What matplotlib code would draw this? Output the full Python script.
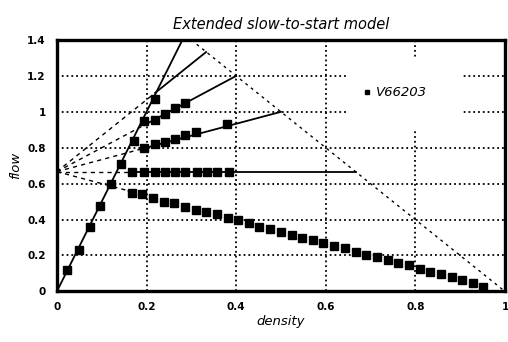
import matplotlib.pyplot as plt
import matplotlib.patches as mpatches

# squares (V66203) - free flow branch
ff_x = [0.022, 0.049, 0.074, 0.096, 0.120, 0.143, 0.171, 0.194, 0.218]
ff_y = [0.117, 0.233, 0.356, 0.478, 0.600, 0.710, 0.840, 0.950, 1.070]

# branch ending at (0.4, 1.2)
b1_x = [0.218, 0.241, 0.263, 0.285]
b1_y = [0.955, 0.990, 1.020, 1.050]

# branch ending at (0.5, 1.0)
b2_x = [0.194, 0.218, 0.241, 0.263, 0.285, 0.310, 0.380]
b2_y = [0.800, 0.820, 0.830, 0.850, 0.870, 0.885, 0.930]

# flat branch at 0.667
b3_x = [0.167, 0.194, 0.218, 0.241, 0.263, 0.285, 0.312, 0.334, 0.358, 0.383]
b3_y = [0.665, 0.665, 0.665, 0.665, 0.665, 0.665, 0.665, 0.665, 0.665, 0.665]

# jammed branch
b4_x = [0.167, 0.190, 0.214, 0.238, 0.262, 0.286, 0.310, 0.333, 0.357, 0.381,
        0.405, 0.429, 0.452, 0.476, 0.500, 0.524, 0.548, 0.571, 0.595, 0.619,
        0.643, 0.667, 0.690, 0.714, 0.738, 0.762, 0.786, 0.810, 0.833, 0.857,
        0.881, 0.905, 0.929, 0.952]
b4_y = [0.550, 0.540, 0.520, 0.500, 0.490, 0.470, 0.455, 0.440, 0.430, 0.410,
        0.395, 0.380, 0.360, 0.350, 0.330, 0.315, 0.300, 0.285, 0.270, 0.255,
        0.240, 0.220, 0.205, 0.190, 0.175, 0.160, 0.145, 0.125, 0.110, 0.095,
        0.080, 0.062, 0.045, 0.025]

# theory lines
free_x = [0.0, 0.28]
free_y = [0.0, 1.4]
cong_x = [0.30, 1.0]
cong_y = [1.40, 0.0]
origin = (0.0, 0.667)
fan_start = [(0.22, 1.107), (0.20, 0.933), (0.19, 0.794), (0.16, 0.667), (0.16, 0.560)]
fan_end = [(0.333, 1.333), (0.40, 1.20), (0.50, 1.00), (0.667, 0.667), (0.167, 0.555)]

fig = plt.figure(figsize=(5.08, 3.42), dpi=100)
ax = fig.add_axes([0.112, 0.148, 0.882, 0.735])

ax.grid(True, color="k", linestyle=":", lw=1.3)
ax.set_axisbelow(True)

ax.plot(free_x, free_y, color="k", lw=1.3)
ax.plot(cong_x, cong_y, color="k", lw=1.0, linestyle=(0, (2, 3)))
for (sx, sy), (ex, ey) in zip(fan_start, fan_end):
    ax.plot([origin[0], sx], [origin[1], sy], color="k", lw=1.0, linestyle=(0, (3, 3)))
    ax.plot([sx, ex], [sy, ey], color="k", lw=1.3)

sq_x = ff_x + b1_x + b2_x + b3_x + b4_x
sq_y = ff_y + b1_y + b2_y + b3_y + b4_y
ax.plot(sq_x, sq_y, "s", color="k", ms=5.5, ls="none", label="V66203", zorder=4)

# white box behind the legend hides the grid
ax.add_patch(mpatches.Rectangle((0.647, 0.647), 0.26, 0.28, transform=ax.transAxes,
                                facecolor="white", edgecolor="none", zorder=2))
ax.legend(loc="center", bbox_to_anchor=(0.755, 0.79), frameon=False,
          handlelength=0.6, handletextpad=0.4, markerscale=0.6,
          prop={"style": "italic", "size": 9.5})

ax.set_xlim(0, 1)
ax.set_ylim(0, 1.4)
ax.set_xticks([0, 0.2, 0.4, 0.6, 0.8, 1])
ax.set_xticklabels(["0", "0.2", "0.4", "0.6", "0.8", "1"])
ax.set_yticks([0, 0.2, 0.4, 0.6, 0.8, 1, 1.2, 1.4])
ax.set_yticklabels(["0", "0.2", "0.4", "0.6", "0.8", "1", "1.2", "1.4"])
ax.tick_params(length=0, labelsize=7.5, pad=8)
for lab in ax.get_xticklabels() + ax.get_yticklabels():
    lab.set_fontweight("bold")
for s in ax.spines.values():
    s.set_linewidth(2.4)

ax.set_title("Extended slow-to-start model", fontsize=10.5, style="italic", pad=8)
ax.set_xlabel("density", fontsize=9.5, style="italic", labelpad=2)
ax.set_ylabel("flow", fontsize=9.5, style="italic", labelpad=4)

fig.savefig("out.png", dpi=100)
